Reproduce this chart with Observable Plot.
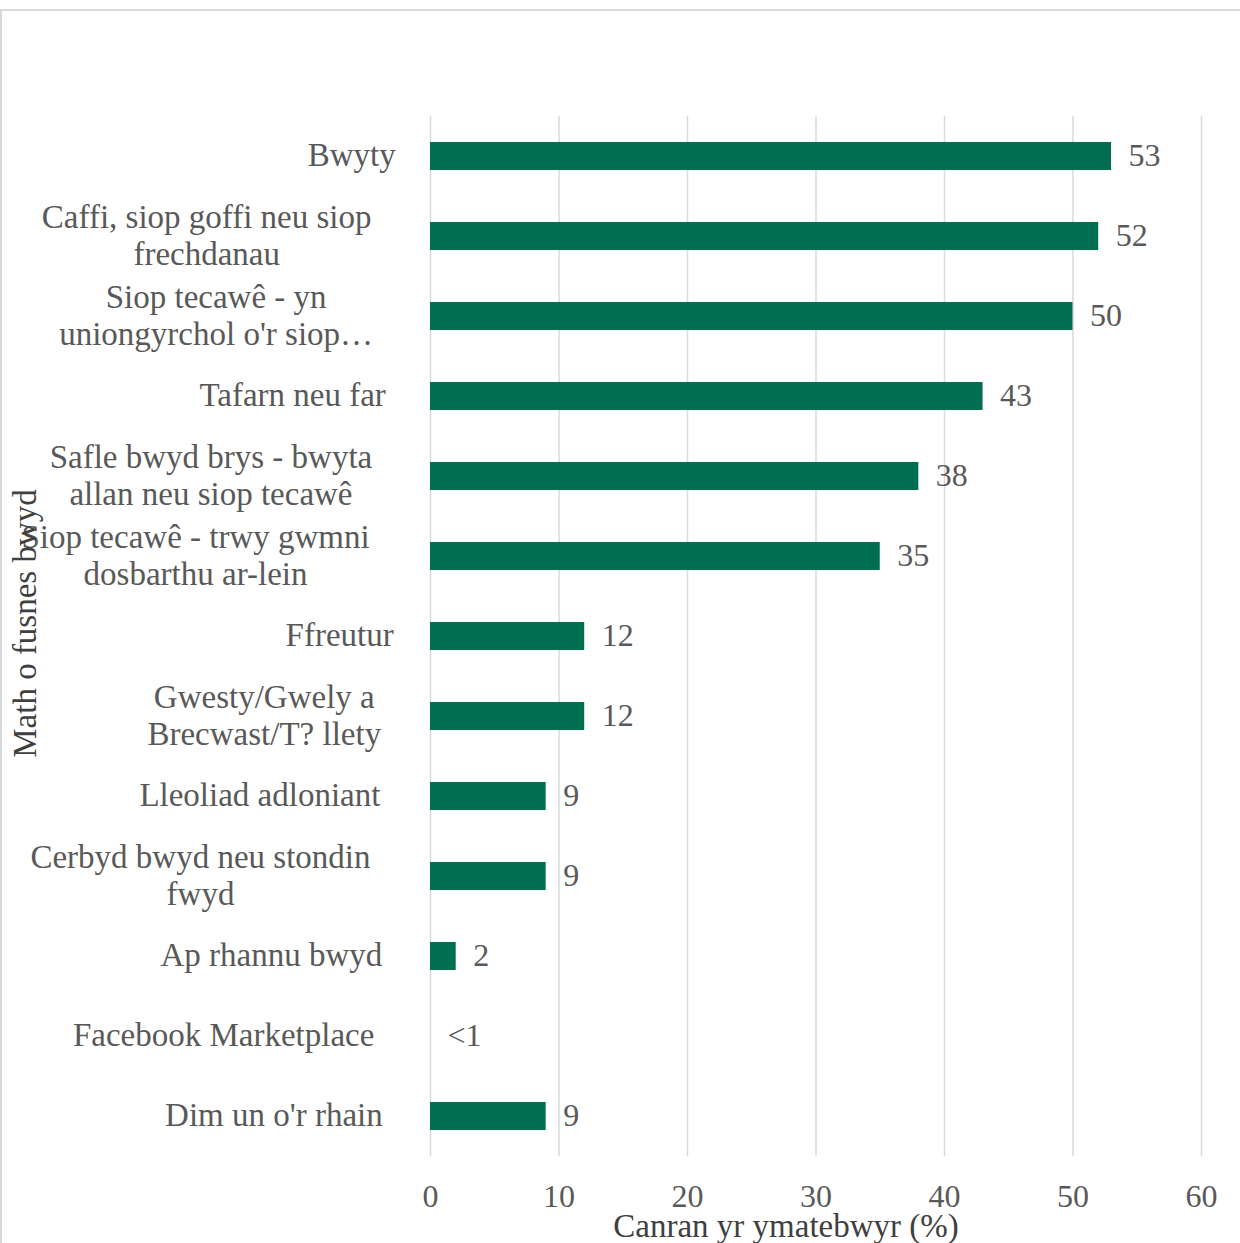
<!DOCTYPE html>
<html>
<head>
<meta charset="utf-8">
<script src="https://cdn.jsdelivr.net/npm/d3@7"></script>
<script src="https://cdn.jsdelivr.net/npm/@observablehq/plot@0.6"></script>
<style>
  html, body { margin: 0; padding: 0; background: #fff; }
  #wrap { position: relative; width: 1240px; height: 1243px; overflow: hidden; }
  #frame { position: absolute; left: 0; top: 9px; width: 1260px; height: 1260px; border-top: 2px solid #d9d9d9; border-left: 2px solid #d9d9d9; box-sizing: border-box; }
  #chart { position: absolute; left: 0; top: 0; }
</style>
</head>
<body>
<div id="wrap"><div id="frame"></div><div id="chart"></div></div>
<script>
const categories = [
  "Bwyty",
  "Caffi, siop goffi neu siop\nfrechdanau",
  "Siop tecawê - yn\nuniongyrchol o'r siop…",
  "Tafarn neu far",
  "Safle bwyd brys - bwyta\nallan neu siop tecawê",
  "Siop tecawê - trwy gwmni\ndosbarthu ar-lein",
  "Ffreutur",
  "Gwesty/Gwely a\nBrecwast/T? llety",
  "Lleoliad adloniant",
  "Cerbyd bwyd neu stondin\nfwyd",
  "Ap rhannu bwyd",
  "Facebook Marketplace",
  "Dim un o'r rhain"
];
const values = [53, 52, 50, 43, 38, 35, 12, 12, 9, 9, 2, 0, 9];
const valueLabels = ["53", "52", "50", "43", "38", "35", "12", "12", "9", "9", "2", "<1", "9"];
const xTicks = [0, 10, 20, 30, 40, 50, 60];
const xTitle = "Canran yr ymatebwyr (%)";
const yTitle = "Math o fusnes bwyd";

const data = categories.map((c, i) => ({category: c, value: values[i], label: valueLabels[i]}));

const W = 1240, H = 1243;
const mL = 430, mR = 39, mT = 116, mB = 87;
const FONT = "'Liberation Serif', 'Times New Roman', serif";
const pxPerUnit = (W - mL - mR) / 60;

// measure label widths for centred multi-line blocks
const ctx = document.createElement("canvas").getContext("2d");
ctx.font = "33px 'Liberation Serif'";
const blockWidth = s => Math.max(...s.split("\n").map(l => ctx.measureText(l).width));
const labelX = d => {
  const w = blockWidth(d.category);
  const right = 404 - 0.1 * w;
  return -((mL - right) + w / 2) / pxPerUnit;
};

const chart = Plot.plot({
  width: W,
  height: H,
  marginLeft: mL,
  marginRight: mR,
  marginTop: mT,
  marginBottom: mB,
  style: {fontFamily: FONT, fontSize: "32px", color: "#595959", background: "transparent", overflow: "visible"},
  x: {domain: [0, 60], ticks: xTicks},
  y: {domain: categories, paddingInner: 0.65, paddingOuter: 0.325, axis: null},
  marks: [
    Plot.gridX(xTicks, {stroke: "#d9d9d9", strokeOpacity: 1, strokeWidth: 1.5}),
    Plot.barX(data, {x: "value", y: "category", fill: "#006e51"}),
    Plot.text(data, {x: "value", y: "category", text: "label", textAnchor: "start", dx: 17, dy: -1, fontSize: 32}),
    Plot.text(data, {x: labelX, y: "category", text: "category", textAnchor: "middle", lineAnchor: "middle", lineHeight: 1.13, dy: -2, fontSize: 33}),
    Plot.axisX(xTicks, {tickSize: 0, tickPadding: 28, label: null, fontSize: 32, tickFormat: d => String(d)}),
    Plot.text([xTitle], {frameAnchor: "bottom", dy: 70, dx: -30, lineAnchor: "middle", fontSize: 33, fill: "#404040"}),
    Plot.text([yTitle], {frameAnchor: "left", dx: -405, dy: -13, rotate: -90, lineAnchor: "middle", textAnchor: "middle", fontSize: 33, fill: "#404040"})
  ]
});
document.getElementById("chart").appendChild(chart);
</script>
</body>
</html>
